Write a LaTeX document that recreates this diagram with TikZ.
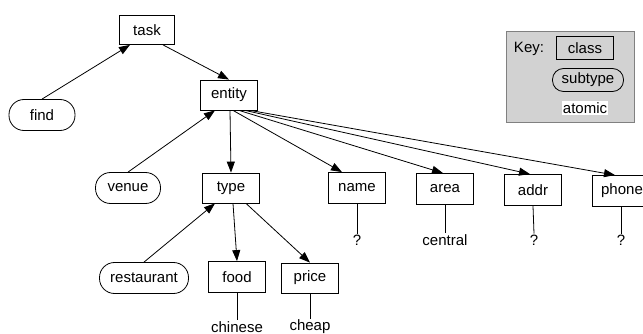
\documentclass[tikz,border=0pt]{standalone}
\usepackage{fontspec}
\setmainfont{Liberation Sans}
\usepackage{tikz}
\usetikzlibrary{arrows.meta,positioning}

\begin{document}
\begin{tikzpicture}[
  x=1pt,y=-1pt,
  >={Triangle[length=11pt,width=8pt]},
  every node/.style={font=\fontsize{15}{18}\selectfont,inner sep=1pt},
  cls/.style={draw,line width=0.8pt,minimum width=57pt,minimum height=30pt},
  sub/.style={draw,line width=0.8pt,rounded corners=15pt,minimum height=31pt,inner xsep=9pt},
  atom/.style={inner sep=1pt},
  edge/.style={->,line width=0.8pt},
  link/.style={line width=0.8pt}
]
\useasboundingbox (0,0) rectangle (643,334);
\fill[gray!35,draw=gray,line width=0.6pt] (506,31) rectangle (634,122);
\node (keylab) at (529,49) {Key:};
\node[cls,minimum width=57pt,minimum height=23pt] (kclass) at (585,48) {class};
\node[sub,minimum width=71pt,minimum height=23pt,rounded corners=11pt,inner xsep=4pt] (ksub) at (588,80) {subtype};
\node[atom,fill=white] (katom) at (585,108) {atomic};

\node[cls,minimum width=55pt,minimum height=29pt] (task) at (147,30) {task};
\node[sub,minimum width=66pt] (find) at (42,115) {find};
\node[cls] (entity) at (229,95) {entity};
\node[sub,minimum width=65pt] (venue) at (128,188) {venue};
\node[cls] (type) at (231,188) {type};
\node[sub,minimum width=89pt] (restaurant) at (144,278) {restaurant};
\node[cls,minimum height=31pt] (food) at (237,277) {food};
\node[cls] (price) at (310,278) {price};
\node[cls,minimum height=31pt] (name) at (357,188) {name};
\node[cls,minimum height=31pt] (area) at (445,189) {area};
\node[cls,minimum height=31pt] (addr) at (533,190) {addr};
\node[cls,minimum width=60pt,minimum height=31pt] (phone) at (622,191) {phone};

\node[atom] (qname) at (357,240) {?};
\node[atom] (central) at (445,240) {central};
\node[atom] (qaddr) at (534,240) {?};
\node[atom] (qphone) at (621,240) {?};
\node[atom] (chinese) at (237,327) {chinese};
\node[atom] (cheap) at (310,327) {cheap};

\draw[edge] (find.north) -- ([xshift=-17pt]task.south);
\draw[edge] ([xshift=16pt]task.south) -- (entity.north);
\draw[edge] (venue.north) -- ([xshift=-14pt]entity.south);
\draw[edge] ([xshift=1pt]entity.south) -- (type.north);
\foreach \s/\t/\d in {4/name/-15,10/area/-2,16/addr/-3,21/phone/-7}
  \draw[edge] ([xshift=\s pt]entity.south) -- ([xshift=\d pt]\t.north);
\draw[edge] (restaurant.north) -- ([xshift=-16pt]type.south);
\draw[edge] ([xshift=2pt]type.south) -- (food.north);
\draw[edge] ([xshift=15pt]type.south) -- (price.north);
\foreach \a/\b in {name/qname,area/central,addr/qaddr,food/chinese,price/cheap}
  \draw[link] (\a.south) -- (\b.north);
\draw[link] ([xshift=-1pt]phone.south) -- (qphone.north);
\end{tikzpicture}
\end{document}
